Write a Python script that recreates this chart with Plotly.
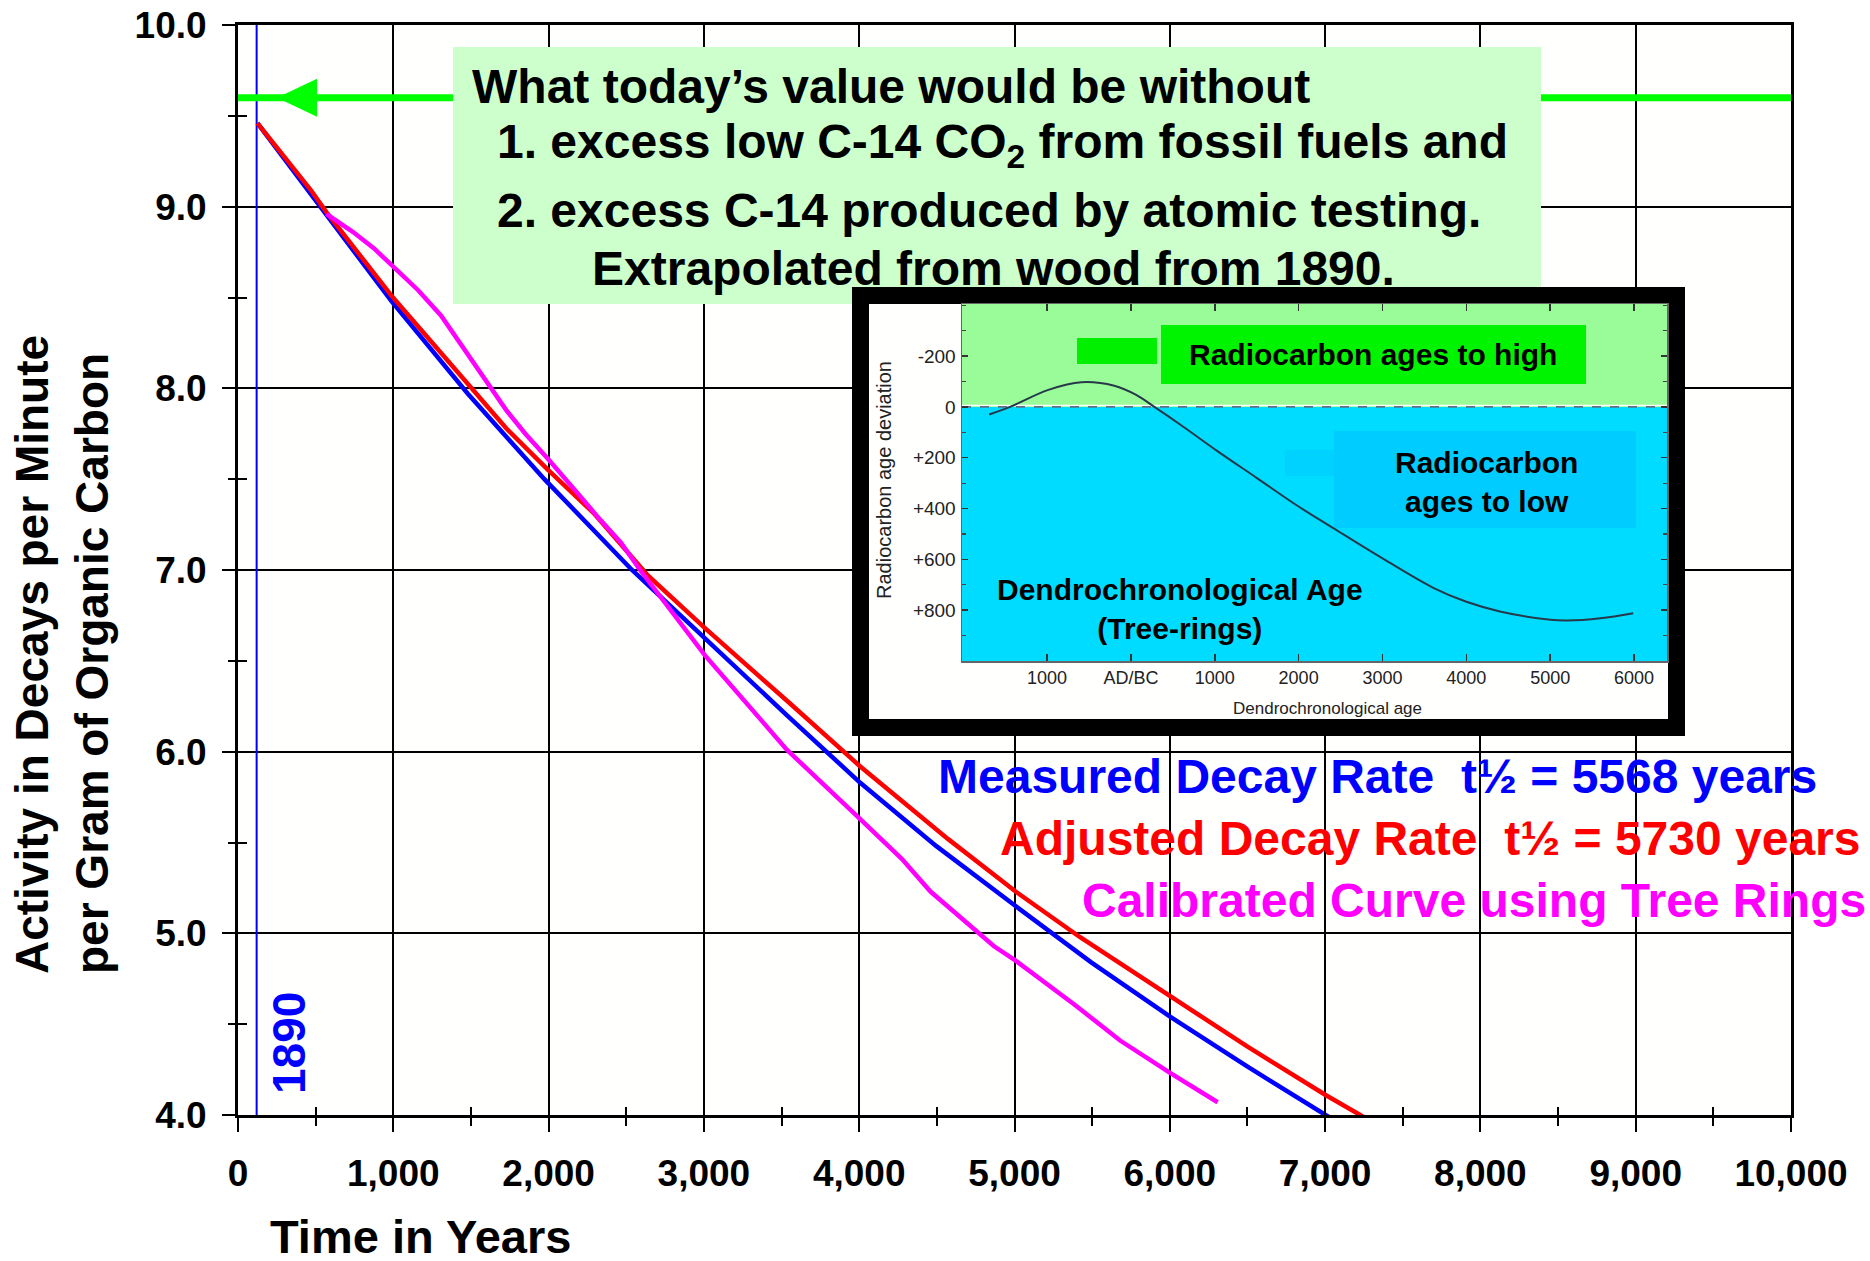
import plotly.graph_objects as go

# ---------------- data ----------------
measured_years = [125, 569, 988, 1480, 1973, 2537, 3007, 3535, 4005, 4497, 5007, 5494, 6004, 6493, 7003, 7103]
measured_activity = [9.46, 8.96, 8.48, 7.97, 7.50, 7.00, 6.62, 6.20, 5.83, 5.48, 5.15, 4.84, 4.54, 4.27, 4.00, 3.95]

adjusted_years = [125, 322, 470, 569, 988, 1160, 1480, 1727, 1998, 2294, 2639, 3007, 3535, 4005,
                  4571, 5007, 5420, 6004, 6493, 7003, 7287]
adjusted_activity = [9.46, 9.25, 9.09, 8.97, 8.51, 8.34, 8.02, 7.78, 7.55, 7.31, 6.97, 6.68, 6.28, 5.92,
                     5.52, 5.23, 4.98, 4.65, 4.38, 4.11, 3.97]

calibrated_years = [569, 741, 876, 1012, 1160, 1308, 1480, 1628, 1727, 1850, 1998, 2220, 2318, 2466, 2589,
                    3007, 3535, 4005, 4274, 4459, 4607, 4866, 5007, 5383, 5680, 6004, 6308]
calibrated_activity = [8.96, 8.86, 8.77, 8.66, 8.54, 8.40, 8.19, 8.01, 7.88, 7.75, 7.61, 7.39, 7.29, 7.15, 7.00,
                       6.53, 6.01, 5.63, 5.41, 5.23, 5.12, 4.93, 4.85, 4.61, 4.41, 4.23, 4.07]

year_1890 = 120            # years before present of the 1890 wood
today_without_level = 9.6  # "what today's value would be without"

# inset: radiocarbon age deviation vs dendrochronological age (negative = AD)
deviation_age = [-1690, -1442, -984, -590, -198, 63, 280, 625, 1023, 1503, 2000, 2418, 3000, 3606,
                 4001, 4401, 5002, 5200, 5600, 5990]
deviation_value = [30, 0, -67, -97, -83, -47, 0, 78, 172, 280, 392, 478, 596, 712,
                   767, 805, 838, 841, 832, 812]
inset_x_tickvals = [-1000, 0, 1000, 2000, 3000, 4000, 5000, 6000]
inset_x_ticktext = ["1000", "AD/BC", "1000", "2000", "3000", "4000", "5000", "6000"]
inset_y_tickvals = [-200, 0, 200, 400, 600, 800]
inset_y_ticktext = ["-200", "0", "+200", "+400", "+600", "+800"]

# ---------------- layout geometry ----------------
W, H = 1870, 1261
ML, MR, MT, MB = 238, 79, 25, 146
PW, PH = W - ML - MR, H - MT - MB
X_RANGE = [0, 10000]
Y_RANGE = [4, 10]


def fx(px):
    return (px - ML) / PW


def fy(py):
    return (H - MB - py) / PH


def dx(px):
    return X_RANGE[0] + (px - ML) / PW * (X_RANGE[1] - X_RANGE[0])


def dy(py):
    return Y_RANGE[1] - (py - MT) / PH * (Y_RANGE[1] - Y_RANGE[0])


# inset chart pixel box
IX0, IX1, IY0, IY1 = 962, 1667, 304, 661
INSET_X_RANGE = [-2014, 6393]
INSET_Y_TOP, INSET_Y_BOTTOM = -405, 1000


def ix(px):
    return INSET_X_RANGE[0] + (px - IX0) / (IX1 - IX0) * (INSET_X_RANGE[1] - INSET_X_RANGE[0])


def iy(py):
    return INSET_Y_TOP + (py - IY0) / (IY1 - IY0) * (INSET_Y_BOTTOM - INSET_Y_TOP)


FONT = "Liberation Sans, Arial, Helvetica, sans-serif"
NARROW = "Liberation Sans Narrow, Liberation Sans, Arial, sans-serif"

fig = go.Figure()

# ---------------- main curves ----------------
fig.add_trace(go.Scatter(x=measured_years, y=measured_activity, mode="lines",
                         line=dict(color="#0000FF", width=4.5), showlegend=False, hoverinfo="skip"))
fig.add_trace(go.Scatter(x=adjusted_years, y=adjusted_activity, mode="lines",
                         line=dict(color="#FF0000", width=4.5), showlegend=False, hoverinfo="skip"))
fig.add_trace(go.Scatter(x=calibrated_years, y=calibrated_activity, mode="lines",
                         line=dict(color="#FF00FF", width=4.5), showlegend=False, hoverinfo="skip"))

# frame subplot (black border + white interior of the inset picture)
fig.add_trace(go.Scatter(x=[None], y=[None], xaxis="x2", yaxis="y2", showlegend=False, hoverinfo="skip"))
# inset chart
fig.add_trace(go.Scatter(x=deviation_age, y=deviation_value, xaxis="x3", yaxis="y3", mode="lines",
                         line=dict(color="#26384a", width=2, shape="spline"),
                         showlegend=False, hoverinfo="skip"))
# overlay axes for the inner half of the crossing tick marks
fig.add_trace(go.Scatter(x=[None], y=[None], xaxis="x4", yaxis="y4", showlegend=False, hoverinfo="skip"))

shapes = []
# 1890 line
shapes.append(dict(type="line", xref="x", yref="y", layer="between", x0=year_1890, x1=year_1890,
                   y0=Y_RANGE[0], y1=Y_RANGE[1], line=dict(color="#0000FF", width=2)))
# green arrow line
shapes.append(dict(type="line", xref="x", yref="y", layer="between", x0=X_RANGE[0], x1=X_RANGE[1],
                   y0=today_without_level, y1=today_without_level, line=dict(color="#00FF00", width=7)))
tip, base, half = dx(277), dx(317), 19 / PH * (Y_RANGE[1] - Y_RANGE[0])
shapes.append(dict(type="path", xref="x", yref="y", layer="between",
                   path=f"M {tip},{today_without_level} L {base},{today_without_level + half} "
                        f"L {base},{today_without_level - half} Z",
                   fillcolor="#00FF00", line=dict(width=0)))
# green text box
shapes.append(dict(type="rect", xref="x", yref="y", layer="between", x0=dx(453), x1=dx(1541),
                   y0=dy(304), y1=dy(47), fillcolor="#CCFFCC", line=dict(width=0)))

# inset bands and label boxes
shapes.append(dict(type="rect", xref="x3", yref="y3", layer="below", x0=INSET_X_RANGE[0], x1=INSET_X_RANGE[1],
                   y0=INSET_Y_TOP, y1=0, fillcolor="#99FC99", line=dict(width=0)))
shapes.append(dict(type="rect", xref="x3", yref="y3", layer="below", x0=INSET_X_RANGE[0], x1=INSET_X_RANGE[1],
                   y0=0, y1=INSET_Y_BOTTOM, fillcolor="#00DCFF", line=dict(width=0)))
shapes.append(dict(type="line", xref="x3", yref="y3", layer="below", x0=INSET_X_RANGE[0], x1=INSET_X_RANGE[1],
                   y0=iy(405.5), y1=iy(405.5), line=dict(color="white", width=1.5)))
shapes.append(dict(type="line", xref="x3", yref="y3", layer="below", x0=INSET_X_RANGE[0], x1=INSET_X_RANGE[1],
                   y0=0, y1=0, line=dict(color="#5a7487", width=1.6, dash="dash")))
shapes.append(dict(type="rect", xref="x3", yref="y3", layer="below", x0=ix(1077), x1=ix(1157),
                   y0=iy(338), y1=iy(364), fillcolor="#00F000", line=dict(width=0)))
shapes.append(dict(type="rect", xref="x3", yref="y3", layer="below", x0=ix(1161), x1=ix(1586),
                   y0=iy(325), y1=iy(384), fillcolor="#00F400", line=dict(width=0)))
shapes.append(dict(type="rect", xref="x3", yref="y3", layer="below", x0=ix(1285), x1=ix(1334),
                   y0=iy(450), y1=iy(476), fillcolor="#00D2FF", line=dict(width=0)))
shapes.append(dict(type="rect", xref="x3", yref="y3", layer="below", x0=ix(1334), x1=ix(1636),
                   y0=iy(431), y1=iy(528), fillcolor="#00CCFF", line=dict(width=0)))

annotations = []


def ann(text, px, py, size, color="black", xanchor="center", textangle=0, bold=True, family=FONT, align="center"):
    annotations.append(dict(text=text, x=fx(px), y=fy(py), xref="paper", yref="paper", showarrow=False,
                            xanchor=xanchor, yanchor="middle", textangle=textangle, align=align,
                            font=dict(family=family, size=size, color=color,
                                      weight="bold" if bold else "normal")))


ann("What today’s value would be without", 470, 87, 48, xanchor="left")
ann("1. excess low C-14 CO<sub>2</sub> from fossil fuels and", 495, 145, 48, xanchor="left")
ann("2. excess C-14 produced by atomic testing.", 495, 211, 48, xanchor="left")
ann("Extrapolated from wood from 1890.", 993, 268, 48)

ann("Measured Decay Rate\u00a0 t½ = 5568 years", 936, 776, 48, color="#0000FF", xanchor="left")
ann("Adjusted Decay Rate\u00a0 t½ = 5730 years", 998, 838, 48, color="#FF0000", xanchor="left")
ann("Calibrated Curve using Tree Rings", 1080, 901, 48, color="#FF00FF", xanchor="left")

ann("Activity in Decays per Minute<br>per Gram of Organic Carbon", 62, 655, 46, textangle=-90, align="left")
ann("Time in Years", 420, 1236, 47)
ann("1890", 289, 1043, 46, color="#0000FF", textangle=-90)

ann("Radiocarbon ages to high", 1373, 355, 30)
ann("Radiocarbon<br>ages to low", 1486, 482, 30)
ann("Dendrochronological Age<br>(Tree-rings)", 1180, 609, 30)
ann("Radiocarbon age deviation", 884, 480, 20, color="#222222", textangle=-90, bold=False, family=NARROW)
ann("Dendrochronological age", 1327, 708, 17, color="#222222", bold=False, family=NARROW)

tickfont = dict(family=FONT, size=37, color="black", weight="bold")

fig.update_layout(
    width=W, height=H,
    margin=dict(l=ML, r=MR, t=MT, b=MB, pad=0, autoexpand=False),
    paper_bgcolor="white", plot_bgcolor="#FFFFFE",
    showlegend=False, hovermode=False,
    shapes=shapes, annotations=annotations,
    xaxis=dict(range=X_RANGE, dtick=1000, tickformat=",d", showgrid=True, gridcolor="black", gridwidth=2,
               zeroline=False, showline=True, linecolor="black", linewidth=3, mirror=True,
               ticks="outside", ticklen=14, tickwidth=2, tickcolor="black",
               minor=dict(dtick=500, ticks="outside", ticklen=8, tickwidth=2, tickcolor="black", showgrid=False),
               tickfont=tickfont, ticklabelstandoff=10, fixedrange=True, automargin=False),
    yaxis=dict(range=Y_RANGE, dtick=1, tickformat=".1f", showgrid=True, gridcolor="black", gridwidth=2,
               zeroline=False, showline=True, linecolor="black", linewidth=3, mirror=True,
               ticks="outside", ticklen=13, tickwidth=2, tickcolor="black",
               minor=dict(dtick=0.5, ticks="outside", ticklen=7, tickwidth=2, tickcolor="black", showgrid=False),
               tickfont=tickfont, ticklabelstandoff=8, fixedrange=True, automargin=False),
    xaxis4=dict(overlaying="x", anchor="y4", range=X_RANGE, dtick=1000, showgrid=False, zeroline=False,
                showline=False, showticklabels=False, ticks="inside", ticklen=9, tickwidth=2, tickcolor="black",
                minor=dict(dtick=500, ticks="inside", ticklen=8, tickwidth=2, tickcolor="black"),
                fixedrange=True, automargin=False),
    yaxis4=dict(overlaying="y", anchor="x4", range=Y_RANGE, dtick=1, showgrid=False, zeroline=False,
                showline=False, showticklabels=False, ticks="inside", ticklen=9, tickwidth=2, tickcolor="black",
                minor=dict(dtick=0.5, ticks="inside", ticklen=9, tickwidth=2, tickcolor="black"),
                fixedrange=True, automargin=False),
    xaxis2=dict(domain=[fx(869), fx(1668)], anchor="y2", range=[0, 1], showgrid=False, zeroline=False,
                showticklabels=False, ticks="", showline=True, linecolor="black", linewidth=17, mirror=True,
                fixedrange=True, automargin=False),
    yaxis2=dict(domain=[fy(719), fy(304)], anchor="x2", range=[0, 1], showgrid=False, zeroline=False,
                showticklabels=False, ticks="", showline=True, linecolor="black", linewidth=17, mirror=True,
                fixedrange=True, automargin=False),
    xaxis3=dict(domain=[fx(IX0), fx(IX1)], anchor="y3", range=INSET_X_RANGE, tickmode="array",
                tickvals=inset_x_tickvals, ticktext=inset_x_ticktext, showgrid=False, zeroline=False,
                showline=True, linecolor="#666666", linewidth=1.5, mirror="ticks",
                ticks="inside", ticklen=7, tickwidth=1.5, tickcolor="#333333",
                tickfont=dict(family=NARROW, size=18, color="#222222"), ticklabelstandoff=0, fixedrange=True,
                automargin=False),
    yaxis3=dict(domain=[fy(IY1), fy(IY0)], anchor="x3", range=[INSET_Y_BOTTOM, INSET_Y_TOP], tickmode="array",
                tickvals=inset_y_tickvals, ticktext=inset_y_ticktext, showgrid=False, zeroline=False,
                showline=True, linecolor="#666666", linewidth=1.5, mirror="ticks",
                ticks="inside", ticklen=6, tickwidth=1.5, tickcolor="#333333",
                minor=dict(dtick=100, ticks="inside", ticklen=4, tickwidth=1.2, tickcolor="#444444"),
                tickfont=dict(family=NARROW, size=19, color="#222222"), ticklabelstandoff=1, fixedrange=True,
                automargin=False),
)

fig.write_html("out.html", config={"displayModeBar": False, "staticPlot": True},
               post_script="document.body.style.margin='0';document.body.style.overflow='hidden';")
